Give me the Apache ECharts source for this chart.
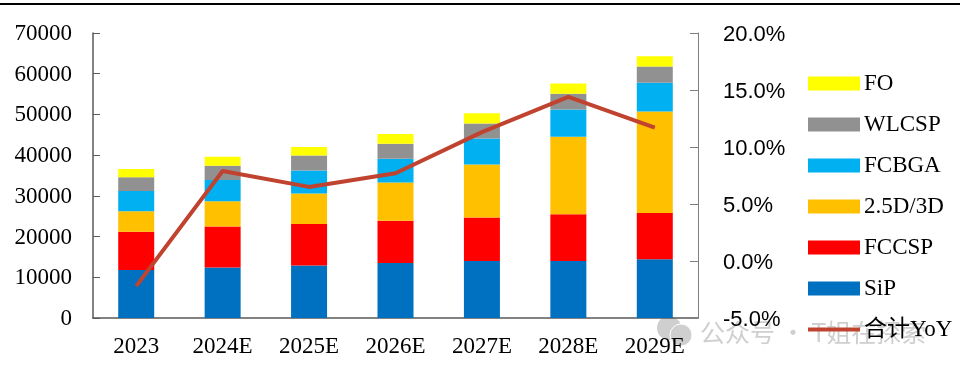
<!DOCTYPE html>
<html>
<head>
<meta charset="utf-8">
<style>
  html, body { margin: 0; padding: 0; background: #fff; }
  #chart { width: 960px; height: 370px; }
</style>
<script src="https://cdn.jsdelivr.net/npm/echarts@6/dist/echarts.min.js"></script>
</head>
<body>
<div id="chart"></div>
<script>
const categories = ['2023', '2024E', '2025E', '2026E', '2027E', '2028E', '2029E'];
const sip = [11800, 12400, 12900, 13500, 14000, 14000, 14400];
const fccsp = [9400, 10100, 10200, 10400, 10700, 11500, 11400];
const d25d3d = [5000, 6200, 7500, 9400, 13000, 19000, 24900];
const fcbga = [5000, 5200, 5600, 5800, 6400, 6700, 7100];
const wlcsp = [3400, 3500, 3700, 3700, 3700, 3900, 4000];
const fo = [2000, 2200, 2100, 2400, 2500, 2500, 2500];
const yoy = [-2.2, 7.9, 6.5, 7.7, 11.3, 14.4, 11.7];
const serif = '"Liberation Serif", "Noto Sans CJK SC", serif';
const cjk = '"Noto Sans CJK SC", sans-serif';
const markGray = '#cfcfcf';

function barSeries(name, data, color) {
  return { name: name, type: 'bar', stack: 'total', barWidth: 36, data: data, itemStyle: { color: color } };
}

const chart = echarts.init(document.getElementById('chart'));
chart.setOption({
  animation: false,
  backgroundColor: '#fff',
  grid: { left: 93, right: 262, top: 33, bottom: 52 },
  legend: {
    orient: 'vertical',
    left: 808,
    top: 72,
    padding: 0,
    itemWidth: 52,
    itemHeight: 14,
    itemGap: 18,
    icon: 'rect',
    textStyle: { fontFamily: serif, fontSize: 23, color: '#000', padding: [0, 0, 0, -1] },
    data: [
      { name: 'FO' }, { name: 'WLCSP' }, { name: 'FCBGA' }, { name: '2.5D/3D' }, { name: 'FCCSP' }, { name: 'SiP' },
      { name: '合计YoY', icon: 'path://M0 0L0 0Z M52 14L52 14Z M0 5H52V9H0Z' }
    ]
  },
  xAxis: {
    type: 'category',
    data: categories,
    axisLine: { lineStyle: { color: '#595959', width: 1.5 } },
    axisTick: { inside: true, length: 6, lineStyle: { color: '#595959', width: 1 } },
    axisLabel: { fontFamily: serif, fontSize: 23, color: '#000', margin: 17 }
  },
  yAxis: [
    {
      type: 'value', min: 0, max: 70000, interval: 10000,
      splitLine: { show: false },
      axisLine: { show: true, lineStyle: { color: '#595959', width: 1.5 } },
      axisTick: { show: true, inside: true, length: 7, lineStyle: { color: '#595959' } },
      axisLabel: {
        fontFamily: serif, fontSize: 23, color: '#000', margin: 21,
        formatter: function (v) { return '{t|' + v + '}'; },
        rich: { t: { fontFamily: serif, fontSize: 23, color: '#000', padding: [2, 0, 0, 0] } }
      }
    },
    {
      type: 'value', position: 'right', min: -5, max: 20, interval: 5,
      splitLine: { show: false },
      axisLine: { show: true, lineStyle: { color: '#7f7f7f', width: 1 } },
      axisTick: { show: true, inside: true, length: 8, lineStyle: { color: '#7f7f7f' } },
      axisLabel: {
        margin: 25,
        formatter: function (v) { return '{t|' + v.toFixed(1) + '%}'; },
        rich: { t: { fontFamily: '"Liberation Sans", sans-serif', fontSize: 22, color: '#000', padding: [4, 0, 0, 0] } }
      }
    }
  ],
  series: [
    barSeries('SiP', sip, '#0070C0'),
    barSeries('FCCSP', fccsp, '#FF0000'),
    barSeries('2.5D/3D', d25d3d, '#FFC000'),
    barSeries('FCBGA', fcbga, '#00B0F0'),
    barSeries('WLCSP', wlcsp, '#919191'),
    barSeries('FO', fo, '#FFFF00'),
    {
      name: '合计YoY', type: 'line', yAxisIndex: 1, data: yoy,
      symbol: 'none', z: 5,
      lineStyle: { color: '#C0432F', width: 4 },
      itemStyle: { color: '#C0432F' }
    }
  ],
  graphic: [
    { type: 'rect', shape: { x: 0, y: 3, width: 960, height: 2 }, style: { fill: '#000' } },
    // 水印
    { type: 'circle', z: -1, shape: { cx: 669, cy: 328, r: 12 }, style: { fill: markGray } },
    { type: 'circle', z: -1, shape: { cx: 681, cy: 335, r: 11 }, style: { fill: markGray, stroke: '#fff', lineWidth: 1 } },
    { type: 'text', z: -1, x: 700, y: 332, style: { text: '公众号 · T姐在探索', fill: markGray, font: '25px ' + cjk, verticalAlign: 'middle' } }
  ]
});
</script>
</body>
</html>
